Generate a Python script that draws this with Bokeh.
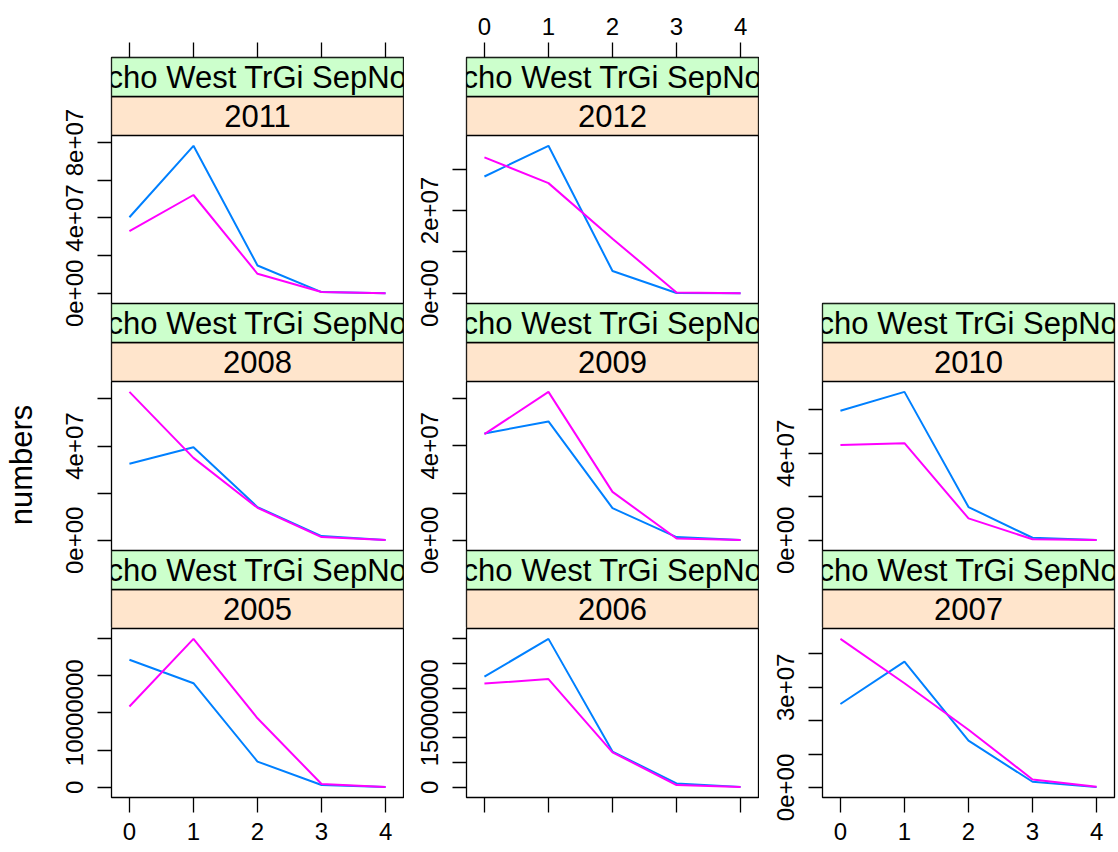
import math
from bokeh.plotting import figure
from bokeh.models import Range1d, FixedTicker, BoxAnnotation, ColumnDataSource
from bokeh.layouts import row, column
from bokeh.embed import file_html
from bokeh.resources import INLINE
from bokeh.core.properties import value

# ---------------- data ----------------
ages = [0, 1, 2, 3, 4]

blue_2005 = [17.1e6, 13.96e6, 3.45e6, 0.32e6, 0.03e6]
pink_2005 = [10.83e6, 19.9e6, 9.26e6, 0.45e6, 0.05e6]
blue_2006 = [22.3e6, 29.9e6, 7.2e6, 0.8e6, 0.1e6]
pink_2006 = [20.9e6, 21.8e6, 7.05e6, 0.47e6, 0.05e6]
blue_2007 = [25.0e6, 37.7e6, 14.0e6, 1.7e6, 0.1e6]
pink_2007 = [44.5e6, 31.2e6, 17.3e6, 2.4e6, 0.2e6]
blue_2008 = [32.5e6, 39.5e6, 14.1e6, 1.8e6, 0.2e6]
pink_2008 = [63.0e6, 35.0e6, 13.8e6, 1.4e6, 0.1e6]
blue_2009 = [45.2e6, 50.3e6, 13.6e6, 1.4e6, 0.1e6]
pink_2009 = [44.9e6, 62.8e6, 20.5e6, 0.8e6, 0.1e6]
blue_2010 = [59.6e6, 68.3e6, 15.3e6, 1.2e6, 0.1e6]
pink_2010 = [43.9e6, 44.7e6, 10.1e6, 0.5e6, 0.1e6]
blue_2011 = [40.4e6, 78.3e6, 14.8e6, 0.7e6, 0.1e6]
pink_2011 = [33.0e6, 52.2e6, 10.4e6, 0.7e6, 0.1e6]
blue_2012 = [28.2e6, 35.6e6, 5.4e6, 0.1e6, 0.05e6]
pink_2012 = [32.8e6, 26.6e6, 13.2e6, 0.2e6, 0.05e6]

yticks_2005 = [0, 5e6, 10e6, 15e6, 20e6]
ylabels_2005 = ["0", "", "10000000", "", ""]
yticks_2006 = [0, 5e6, 10e6, 15e6, 20e6, 25e6, 30e6]
ylabels_2006 = ["0", "", "", "15000000", "", "", ""]
yticks_2007 = [0, 1e7, 2e7, 3e7, 4e7]
ylabels_2007 = ["0e+00", "", "", "3e+07", ""]
yticks_2008 = [0, 2e7, 4e7, 6e7]
ylabels_2008 = ["0e+00", "", "4e+07", ""]
yticks_2009 = [0, 2e7, 4e7, 6e7]
ylabels_2009 = ["0e+00", "", "4e+07", ""]
yticks_2010 = [0, 2e7, 4e7, 6e7]
ylabels_2010 = ["0e+00", "", "4e+07", ""]
yticks_2011 = [0, 2e7, 4e7, 6e7, 8e7]
ylabels_2011 = ["0e+00", "", "4e+07", "", "8e+07"]
yticks_2012 = [0, 1e7, 2e7, 3e7]
ylabels_2012 = ["0e+00", "", "2e+07", ""]

xtick_labels = ["0", "1", "2", "3", "4"]
strip_factor = "cho West TrGi SepNo"
y_title = "numbers"

# ---------------- style ----------------
FONT = "Liberation Sans"
BLUE = "#0080ff"
PINK = "#ff00ff"
ORANGE = "#ffe5cc"
GREEN = "#ccffcc"
STRIP_H = 39
LW = 1.3
TOTAL_H = 851
LAB_W = 48


def padded(vals, f=0.07):
    lo, hi = min(vals), max(vals)
    r = hi - lo
    return lo - f * r, hi + f * r


xlo, xhi = padded(ages)
xmid = (xlo + xhi) / 2


def make_panel(blue, pink, yticks, ylabels, width, height, left, right, top, bottom,
               frame_h, band, strips, xaxis=None, xlabels=False):
    b0, b1 = band
    lo, hi = padded(blue + pink)
    scale = (hi - lo) / (b1 - b0)
    y0 = lo - b0 * scale
    y1 = hi + (frame_h - b1) * scale
    p = figure(width=width, height=height, x_range=Range1d(xlo, xhi), y_range=Range1d(y0, y1),
               output_backend="svg", toolbar_location=None, tools="",
               x_axis_location=xaxis, y_axis_location="left",
               min_border_left=left, min_border_right=right,
               min_border_top=top, min_border_bottom=bottom)
    p.extra_y_ranges = {"px": Range1d(0, frame_h)}
    p.grid.visible = False
    p.background_fill_color = "white"
    p.border_fill_color = "white"
    p.outline_line_color = "black"
    p.outline_line_width = LW

    # strips
    for sb, yr in strips:
        p.add_layout(BoxAnnotation(bottom=sb, top=sb + STRIP_H, fill_color=ORANGE, fill_alpha=1,
                                   line_color="black", line_alpha=1, line_width=LW,
                                   y_range_name="px", level="underlay"))
        p.add_layout(BoxAnnotation(bottom=sb + STRIP_H, top=sb + 2 * STRIP_H, fill_color=GREEN,
                                   fill_alpha=1, line_color="black", line_alpha=1, line_width=LW,
                                   y_range_name="px", level="underlay"))
        src = ColumnDataSource(dict(x=[xmid, xmid],
                                    y=[sb + STRIP_H / 2, sb + 1.5 * STRIP_H],
                                    t=[str(yr), strip_factor]))
        p.text(x="x", y="y", text="t", source=src, y_range_name="px",
               text_font=value(FONT), text_font_size="31px", text_color="black",
               text_align="center", text_baseline="middle")

    p.line(ages, blue, line_color=BLUE, line_width=2)
    p.line(ages, pink, line_color=PINK, line_width=2)

    ya = p.yaxis[0]
    ya.ticker = FixedTicker(ticks=yticks, minor_ticks=[])
    ya.major_label_overrides = {float(t): l for t, l in zip(yticks, ylabels)}
    ya.major_label_orientation = "vertical"
    ya.axis_line_color = None
    ya.major_tick_out = 14
    ya.major_tick_in = 0
    ya.minor_tick_out = 0
    ya.minor_tick_in = 0
    ya.major_tick_line_color = "black"
    ya.major_tick_line_width = LW
    ya.major_label_text_font = FONT
    ya.major_label_text_font_size = "24px"
    ya.major_label_text_color = "black"
    ya.major_label_standoff = 14

    if xaxis is not None:
        xa = p.xaxis[0]
        xa.ticker = FixedTicker(ticks=ages, minor_ticks=[])
        if xlabels:
            xa.major_label_overrides = {float(a): l for a, l in zip(ages, xtick_labels)}
        else:
            xa.major_label_overrides = {float(a): "" for a in ages}
        xa.axis_line_color = None
        xa.major_tick_out = 15
        xa.major_tick_in = 0
        xa.minor_tick_out = 0
        xa.minor_tick_in = 0
        xa.major_tick_line_color = "black"
        xa.major_tick_line_width = LW
        xa.major_label_text_font = FONT
        xa.major_label_text_font_size = "24px"
        xa.major_label_text_color = "black"
        xa.major_label_standoff = 8 if xaxis == "above" else 10
    return p


# y title strip on the far left
lab = figure(width=LAB_W, height=TOTAL_H, x_range=Range1d(0, LAB_W), y_range=Range1d(0, TOTAL_H),
             output_backend="svg", toolbar_location=None, tools="",
             x_axis_location=None, y_axis_location=None, min_border=0)
lab.grid.visible = False
lab.outline_line_color = None
lab.background_fill_color = "white"
lab.border_fill_color = "white"
lab.text(x=[21], y=[TOTAL_H - 464.5], text=[y_title], angle=math.pi / 2,
         text_font=value(FONT), text_font_size="31px", text_color="black",
         text_align="center", text_baseline="middle")

# column geometry: (width, left border, right border)
C1 = (404 - LAB_W, 111 - LAB_W, 1)
C2 = (355, 62, 1)
C3 = (357, 63, 2)

# row 1 (top): frame holds own strips, panel and row-2 strips
a1 = make_panel(blue_2011, pink_2011, yticks_2011, ylabels_2011, C1[0], 381, C1[1], C1[2], 57, 0,
                324, (78, 246), [(0, 2008), (246, 2011)], xaxis="above", xlabels=False)
a2 = make_panel(blue_2012, pink_2012, yticks_2012, ylabels_2012, C2[0], 381, C2[1], C2[2], 57, 0,
                324, (78, 246), [(0, 2009), (246, 2012)], xaxis="above", xlabels=True)
# row 2
b1 = make_panel(blue_2008, pink_2008, yticks_2008, ylabels_2008, C1[0], 247, C1[1], C1[2], 0, 0,
                247, (78, 247), [(0, 2005)])
b2 = make_panel(blue_2009, pink_2009, yticks_2009, ylabels_2009, C2[0], 247, C2[1], C2[2], 0, 0,
                247, (78, 247), [(0, 2006)])
b3 = make_panel(blue_2010, pink_2010, yticks_2010, ylabels_2010, C3[0], 628, C3[1], C3[2], 303, 0,
                325, (78, 247), [(0, 2007), (247, 2010)])
# row 3 (bottom)
c1 = make_panel(blue_2005, pink_2005, yticks_2005, ylabels_2005, C1[0], 223, C1[1], C1[2], 0, 54,
                169, (0, 169), [], xaxis="below", xlabels=True)
c2 = make_panel(blue_2006, pink_2006, yticks_2006, ylabels_2006, C2[0], 223, C2[1], C2[2], 0, 54,
                169, (0, 169), [], xaxis="below", xlabels=False)
c3 = make_panel(blue_2007, pink_2007, yticks_2007, ylabels_2007, C3[0], 223, C3[1], C3[2], 0, 54,
                169, (0, 169), [], xaxis="below", xlabels=True)

layout = row(lab, column(a1, b1, c1), column(a2, b2, c2), column(b3, c3))

open("out.html", "w").write(file_html(layout, INLINE))
